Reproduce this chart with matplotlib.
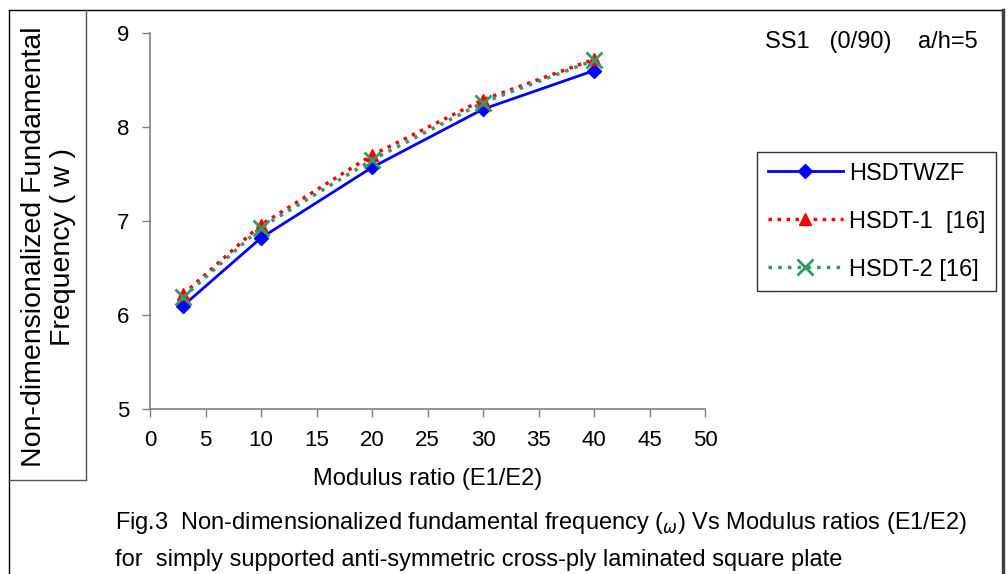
import matplotlib
matplotlib.use("Agg")
import matplotlib.pyplot as plt
from matplotlib.lines import Line2D

# data
ratio = [3, 10, 20, 30, 40]
hsdtwzf = [6.10, 6.82, 7.57, 8.19, 8.60]
hsdt1 = [6.22, 6.96, 7.70, 8.29, 8.72]
hsdt2 = [6.19, 6.93, 7.65, 8.26, 8.71]

xticks = list(range(0, 55, 5))
yticks = [5, 6, 7, 8, 9]

plt.rcParams['font.family'] = ['Liberation Sans', 'DejaVu Sans']

W, H = 1008, 574
fig = plt.figure(figsize=(W / 100, H / 100), dpi=100)

def fx(px):
    return px / W

def fy(py):
    return 1 - py / H

ax = fig.add_axes([fx(150), fy(409), fx(705) - fx(150), fy(33) - fy(409)])

ax.plot(ratio, hsdtwzf, color='#0000FF', lw=2, marker='D', ms=7.5,
        label='HSDTWZF', zorder=3)
ax.plot(ratio, hsdt1, color='#FF0000', lw=2.5, linestyle=(0, (1, 1.6)),
        marker='^', ms=8, label='HSDT-1  [16]', zorder=4)
ax.plot(ratio, hsdt2, color='#339966', lw=2.5, linestyle=(0, (1, 1.8)),
        marker='x', ms=11, mew=2, label='HSDT-2 [16]', zorder=5)

ax.set_xlim(0, 50)
ax.set_ylim(5, 9)
ax.set_xticks(xticks)
ax.set_yticks(yticks)
for s in ['top', 'right']:
    ax.spines[s].set_visible(False)
for s in ['left', 'bottom']:
    ax.spines[s].set_color('#808080')
    ax.spines[s].set_linewidth(1.2)
ax.tick_params(direction='out', length=6, width=1, color='#808080',
               labelsize=16, pad=9)

ax.set_xlabel('Modulus ratio (E1/E2)', fontsize=17, labelpad=12)

leg = ax.legend(loc='upper left', bbox_to_anchor=(fx(757), fy(152)),
                bbox_transform=fig.transFigure, fontsize=17, frameon=True,
                fancybox=False, edgecolor='black', handlelength=3.2,
                handletextpad=0.25, labelspacing=1.1, borderpad=0.45,
                borderaxespad=0)
leg.get_frame().set_linewidth(1)

fig.text(fx(765), fy(42), 'SS1   (0/90)    a/h=5', fontsize=17,
         va='center', ha='left')

# y label in its own box
fig.text(fx(49), fy(247), 'Non-dimensionalized Fundamental\nFrequency ( w )',
         rotation=90, fontsize=20.5, ha='center', va='center',
         linespacing=1.15)

fig.text(fx(115), fy(523),
         r'Fig.3  Non-dimensionalized fundamental frequency ($_{\omega}$) Vs Modulus ratios (E1/E2)',
         fontsize=17, va='center', ha='left')
fig.text(fx(115), fy(560),
         'for  simply supported anti-symmetric cross-ply laminated square plate',
         fontsize=17, va='center', ha='left')

# frame lines
fig.add_artist(Line2D([fx(9), fx(1003)], [fy(10), fy(10)], color='black', lw=1))
fig.add_artist(Line2D([fx(9), fx(9)], [fy(10), 0], color='black', lw=1))
fig.add_artist(Line2D([fx(1003), fx(1003)], [fy(10), 0], color='#404040', lw=2.5))
fig.add_artist(Line2D([fx(86), fx(86)], [fy(10), fy(480)], color='#555555', lw=1))
fig.add_artist(Line2D([fx(9), fx(86)], [fy(480), fy(480)], color='#555555', lw=1))

fig.savefig('out.png', dpi=100)
